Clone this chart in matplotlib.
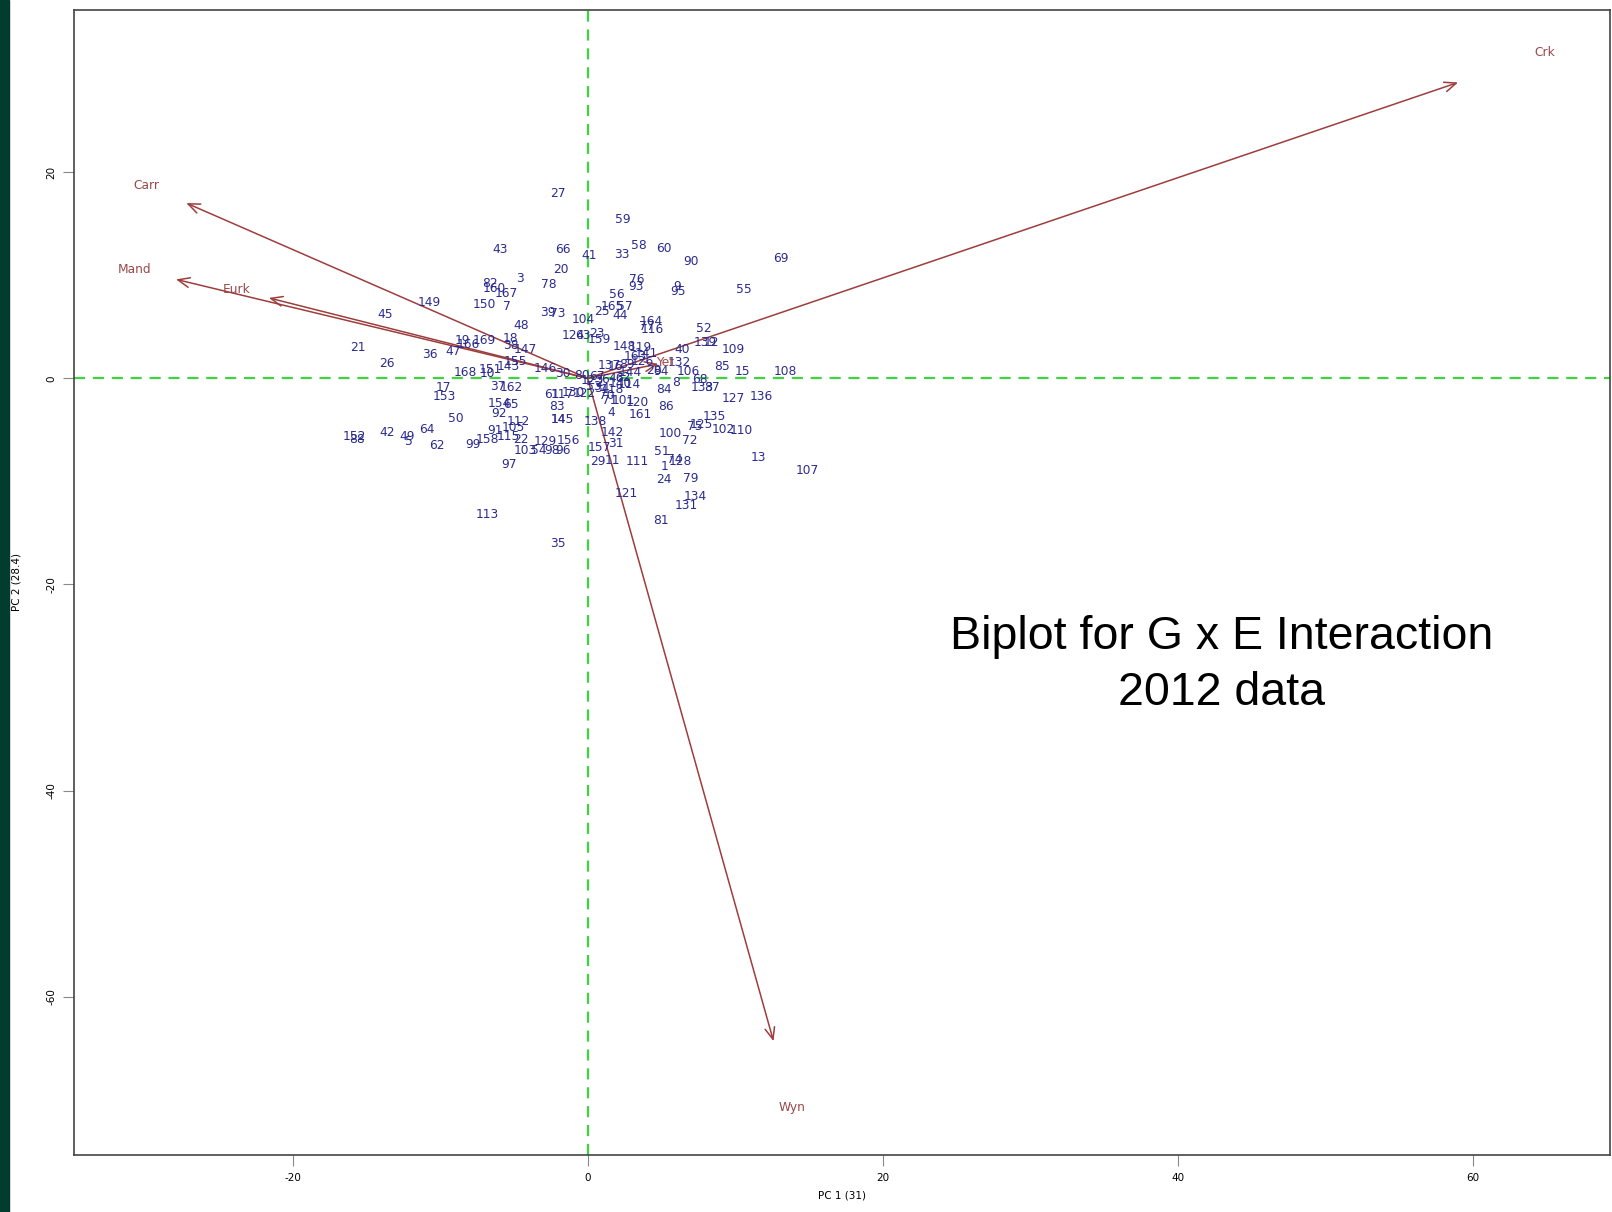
import matplotlib
matplotlib.use("Agg")
import matplotlib.pyplot as plt
from matplotlib.patches import Rectangle

plt.rcParams["axes.unicode_minus"] = False

# genotype scores (PC1, PC2)
geno = ["27", "59", "43", "66", "41", "33", "58", "60", "90", "69",
        "20", "3", "82", "160", "167", "78", "76", "93", "9", "95",
        "55", "56", "149", "150", "7", "45", "39", "73", "104", "25",
        "165", "57", "44", "164", "77", "116", "48", "124", "63", "23",
        "159", "52", "139", "12", "109", "19", "169", "166", "18", "38",
        "147", "21", "36", "47", "26", "155", "168", "151", "10", "143",
        "146", "30", "80", "148", "119", "141", "40", "137", "126", "132",
        "28", "94", "106", "85", "15", "108", "144", "114", "46", "68",
        "8", "84", "133", "87", "127", "136", "17", "153", "154", "65",
        "92", "50", "37", "162", "61", "117", "130", "122", "83", "145",
        "14", "138", "4", "71", "101", "120", "161", "86", "118", "34",
        "142", "31", "157", "29", "11", "111", "100", "72", "75", "125",
        "135", "102", "110", "13", "107", "51", "74", "128", "1", "24",
        "79", "121", "134", "131", "81", "113", "35", "97", "112", "105",
        "91", "115", "22", "158", "99", "129", "156", "103", "54", "98",
        "96", "64", "42", "49", "5", "62", "152", "88",
        "2", "6", "16", "32", "53", "67", "70", "89", "123", "140", "163"]

pc1 = [-2.0, 2.4, -5.9, -1.7, 0.1, 2.3, 3.5, 5.2, 7.0, 13.1,
       -1.8, -4.6, -6.6, -6.3, -5.5, -2.6, 3.3, 3.3, 6.1, 6.1,
       10.6, 2.0, -10.7, -7.0, -5.5, -13.7, -2.7, -2.0, -0.3, 1.0,
       1.7, 2.5, 2.2, 4.3, 4.0, 4.4, -4.5, -1.0, -0.3, 0.6,
       0.8, 7.9, 8.0, 8.4, 9.9, -8.5, -7.0, -8.1, -5.2, -5.2,
       -4.2, -15.6, -10.7, -9.1, -13.6, -4.9, -8.3, -6.6, -6.8, -5.4,
       -2.9, -1.7, -0.4, 2.5, 3.6, 4.0, 6.4, 1.5, 3.7, 6.2,
       4.5, 5.0, 6.8, 9.1, 10.5, 13.4, 2.9, 2.8, 1.9, 7.6,
       6.0, 5.2, 7.8, 8.4, 9.9, 11.8, -9.8, -9.7, -6.0, -5.2,
       -6.0, -8.9, -6.1, -5.2, -2.4, -1.7, -1.0, -0.2, -2.1, -1.7,
       -2.0, 0.5, 1.6, 1.5, 2.4, 3.4, 3.6, 5.3, 1.7, 1.0,
       1.7, 1.9, 0.8, 0.7, 1.7, 3.4, 5.6, 6.9, 7.3, 7.7,
       8.6, 9.2, 10.4, 11.6, 14.9, 5.0, 5.9, 6.3, 5.2, 5.2,
       7.0, 2.6, 7.3, 6.7, 5.0, -6.8, -2.0, -5.3, -4.7, -5.0,
       -6.3, -5.4, -4.5, -6.8, -7.8, -2.9, -1.3, -4.2, -3.3, -2.4,
       -1.7, -10.9, -13.6, -12.2, -12.1, -10.2, -15.8, -15.6,
       0.8, 1.2, 1.9, 2.4, 0.4, 0.6, 1.3, 2.7, 0.3, 2.2, 3.2]

pc2 = [17.9, 15.4, 12.5, 12.5, 11.9, 12.0, 12.9, 12.6, 11.3, 11.6,
       10.6, 9.7, 9.2, 8.7, 8.2, 9.1, 9.6, 8.9, 8.9, 8.4,
       8.6, 8.1, 7.4, 7.2, 7.0, 6.2, 6.4, 6.3, 5.7, 6.5,
       7.0, 7.0, 6.1, 5.5, 5.0, 4.7, 5.1, 4.2, 4.2, 4.3,
       3.8, 4.8, 3.5, 3.5, 2.8, 3.7, 3.7, 3.3, 3.9, 3.2,
       2.8, 3.0, 2.3, 2.6, 1.4, 1.6, 0.6, 0.9, 0.5, 1.1,
       1.0, 0.5, 0.3, 3.1, 3.0, 2.4, 2.8, 1.2, 1.6, 1.5,
       0.8, 0.7, 0.7, 1.1, 0.7, 0.7, 0.6, -0.6, 0.0, -0.1,
       -0.4, -1.1, -0.9, -0.9, -2.0, -1.8, -0.9, -1.8, -2.4, -2.5,
       -3.4, -3.9, -0.8, -0.9, -1.6, -1.6, -1.4, -1.5, -2.7, -4.0,
       -4.0, -4.2, -3.3, -2.2, -2.2, -2.3, -3.5, -2.7, -1.1, -1.0,
       -5.3, -6.3, -6.7, -8.1, -8.0, -8.1, -5.4, -6.0, -4.7, -4.5,
       -3.7, -5.0, -5.1, -7.7, -8.9, -7.1, -7.9, -8.1, -8.6, -9.8,
       -9.7, -11.2, -11.5, -12.3, -13.8, -13.2, -16.0, -8.4, -4.2, -4.8,
       -5.1, -5.6, -5.9, -5.9, -6.4, -6.1, -6.0, -7.0, -7.0, -7.0,
       -7.0, -5.0, -5.3, -5.6, -6.1, -6.5, -5.6, -5.9,
       -0.4, -0.1, 1.1, 0.1, -0.8, 0.2, -1.7, 1.3, -0.2, -0.5, 2.1]

# environment loadings (arrow tips)
envs = ["Crk", "Carr", "Mand", "Eurk", "Wyn", "Yet"]
env_pc1 = [59.0, -27.2, -27.9, -21.6, 12.6, 4.8]
env_pc2 = [28.7, 17.0, 9.6, 7.8, -64.3, 1.4]

xticks = [-20, 0, 20, 40, 60]
yticks = [-60, -40, -20, 0, 20]

fig = plt.figure(figsize=(16.12, 12.12), dpi=100)
fig.patches.append(Rectangle((0, 0), 9 / 1612, 1, transform=fig.transFigure,
                             color="#013d2e", zorder=0))
ax = fig.add_axes([0.046, 0.0474, 0.9528, 0.9441])

ax.axhline(0, color="#3fd43f", lw=1.6, dashes=(5, 3.5), zorder=1)
ax.axvline(0, color="#3fd43f", lw=1.6, dashes=(5, 3.5), zorder=1)

for g, x, y in zip(geno, pc1, pc2):
    ax.text(x, y, g, color="#2b2b8f", fontsize=8.8, ha="center", va="center", zorder=3)

arrow_col = "#9e3d3d"
for e, x, y in zip(envs, env_pc1, env_pc2):
    ax.annotate("", xy=(x, y), xytext=(0, 0),
                arrowprops=dict(arrowstyle="->,head_length=0.6,head_width=0.25",
                                color=arrow_col, lw=1.1, shrinkA=0, shrinkB=0,
                                mutation_scale=14), zorder=2)
    ax.text(x * 1.1, y * 1.1, e, color="#9a4848", fontsize=8.8,
            ha="center", va="center", zorder=3)

ax.set_xlim(-34.8, 69.3)
ax.set_ylim(-75.3, 35.7)
ax.set_xticks(xticks)
ax.set_yticks(yticks)
ax.tick_params(length=8, width=0.8, color="#888888", labelsize=7.5, pad=5)
for lab in ax.get_yticklabels():
    lab.set_rotation(90)
    lab.set_va("center")
for s in ax.spines.values():
    s.set_color("#444444")
    s.set_linewidth(1.2)

ax.set_xlabel("PC 1 (31)", fontsize=7.5, labelpad=6)
ax.set_ylabel("PC 2 (28.4)", fontsize=7.5, labelpad=18)

fig.text(1222 / 1612, 1 - 637 / 1212, "Biplot for G x E Interaction",
         fontsize=33.5, family="Liberation Sans", ha="center", va="center")
fig.text(1222 / 1612, 1 - 693 / 1212, "2012 data",
         fontsize=33.5, family="Liberation Sans", ha="center", va="center")

fig.savefig("out.png", dpi=100)
